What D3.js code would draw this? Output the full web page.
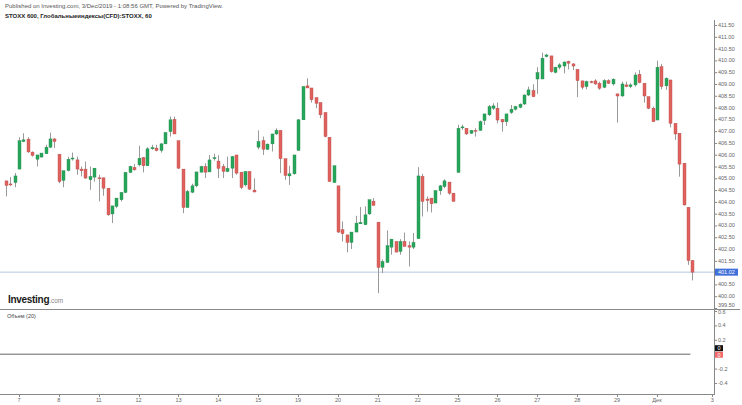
<!DOCTYPE html>
<html>
<head>
<meta charset="utf-8">
<script src="https://cdn.jsdelivr.net/npm/d3@7"></script>
<style>
  body { margin: 0; background: #fff; }
  text { font-family: "Liberation Sans", Arial, sans-serif; }
</style>
</head>
<body>
<div id="chart"></div>
<script>
// hourly STOXX 600 candles, 6 Nov - 2 Dec 2019
var OPEN = [404.89,404.76,404.82,405.39,406.56,406.66,406.11,405.81,405.90,406.04,406.32,406.67,
  406.02,404.91,405.33,405.84,405.78,405.39,405.39,404.94,405.05,
  405.02,405.02,404.58,403.49,403.81,404.09,404.40,405.25,405.46,
  405.57,405.88,405.53,406.25,406.28,406.18,406.46,406.98,407.50,
  406.59,405.39,403.76,404.41,404.68,405.26,405.50,405.27,405.83,
  405.73,405.50,405.29,405.43,405.99,405.26,404.72,405.29,404.50,
  406.32,406.60,406.23,406.46,406.88,407.03,405.83,405.10,405.19,
  406.18,407.48,408.92,408.83,408.42,408.21,407.79,406.74,404.82,
  404.68,402.82,402.60,402.28,402.72,403.07,403.03,403.49,404.03,
  403.14,401.23,401.43,402.08,402.32,401.90,402.32,402.14,402.08,
  402.44,405.08,404.12,404.16,403.95,404.47,404.65,404.84,404.37,
  405.25,407.15,407.12,406.91,407.03,407.03,407.45,407.69,407.97,
  407.97,407.50,407.40,407.79,407.93,408.01,408.15,408.53,408.72,
  409.21,409.21,410.16,410.19,409.49,409.71,409.76,409.96,409.85,
  409.62,409.13,408.89,409.10,409.13,409.03,408.86,409.14,409.00,
  408.58,408.49,408.96,408.89,408.96,409.41,409.03,408.46,407.97,
  407.47,409.73,408.92,409.17,407.33,406.91,405.64,403.77,401.51];
var HIGH = [404.89,405.05,405.22,406.74,406.91,406.74,406.14,405.99,406.07,406.42,406.94,406.70,
  406.02,405.32,405.92,406.09,405.92,405.50,405.71,405.50,405.43,
  405.15,405.02,404.58,403.83,404.16,404.40,405.25,405.53,405.61,
  406.38,405.90,406.32,406.42,406.42,406.49,406.94,407.62,407.62,
  406.59,405.39,404.51,404.77,405.27,405.53,405.64,405.99,406.04,
  405.98,405.61,405.92,405.95,405.99,405.26,405.29,405.29,405.00,
  407.03,406.77,406.47,406.88,407.12,407.03,405.83,405.53,405.99,
  407.51,408.89,409.24,408.83,408.42,408.21,407.79,406.74,405.53,
  404.68,403.17,402.60,402.72,403.41,403.78,403.81,404.09,404.16,
  403.14,401.55,402.79,402.42,402.32,402.42,402.70,402.32,402.68,
  405.47,405.19,404.23,404.16,404.48,404.72,404.96,404.84,404.37,
  407.27,407.27,407.12,407.05,407.12,407.45,407.73,408.11,408.18,
  408.21,407.50,407.73,408.11,408.07,408.18,408.56,408.89,408.99,
  409.71,410.33,410.27,410.19,409.73,409.88,409.95,409.99,409.88,
  409.62,409.14,409.14,409.14,409.20,409.10,409.20,409.20,409.24,
  408.58,409.10,409.10,409.03,409.49,409.59,409.03,408.46,408.04,
  409.99,409.85,409.28,409.17,407.33,406.91,405.64,403.77,401.54];
var LOW = [404.23,404.68,404.62,405.39,406.53,406.07,405.92,405.50,405.88,406.04,406.28,406.28,
  404.79,404.62,405.29,405.75,405.15,405.08,404.98,404.51,404.86,
  404.02,404.26,403.41,403.10,403.73,404.02,404.37,405.22,405.32,
  405.50,405.25,405.53,406.21,406.14,406.09,406.45,406.77,406.88,
  405.39,403.52,403.76,404.37,404.62,405.25,405.01,405.27,405.75,
  405.01,405.01,405.26,405.01,405.15,404.54,404.65,404.51,404.40,
  406.23,405.99,406.20,406.14,406.84,405.22,404.94,404.72,405.15,
  406.18,407.48,408.83,408.21,407.97,407.55,406.74,404.86,404.80,
  402.68,402.32,401.86,402.00,402.72,403.07,403.03,403.45,403.85,
  400.13,400.98,401.43,401.76,401.87,401.76,402.11,401.26,402.00,
  402.44,403.38,403.59,403.55,403.95,404.30,404.58,404.30,404.02,
  405.25,407.05,406.84,406.88,406.77,407.03,407.26,407.64,407.90,
  407.33,406.98,407.22,407.73,407.87,407.97,408.11,408.49,408.44,
  408.58,409.21,410.13,409.48,409.45,409.62,409.45,409.62,409.59,
  408.44,408.77,408.77,409.03,408.96,408.75,408.82,409.00,408.93,
  407.36,408.46,408.86,408.82,408.89,409.03,408.21,407.93,407.40,
  407.47,408.77,408.75,407.16,406.63,405.07,403.84,401.33,400.67];
var CLOSE = [404.70,404.75,405.10,406.59,406.63,406.12,405.97,405.99,406.07,406.32,406.67,406.56,
  404.86,405.32,405.81,405.86,405.39,405.32,405.01,405.08,405.43,
  405.00,404.58,403.45,403.83,404.16,404.40,405.25,405.50,405.36,
  405.85,405.53,406.25,406.30,406.18,406.46,406.94,407.48,406.88,
  405.43,403.76,404.44,404.68,405.27,405.50,405.26,405.78,405.87,
  405.42,405.29,405.42,405.92,405.22,404.61,405.29,404.54,404.42,
  406.56,406.23,406.45,406.88,407.03,405.83,405.12,405.19,405.99,
  407.48,408.89,408.83,408.33,408.18,407.69,406.77,404.86,405.53,
  402.72,402.65,402.28,402.72,403.10,403.13,403.45,404.09,403.85,
  401.22,401.47,402.14,402.42,401.87,402.32,402.11,402.08,402.28,
  405.10,404.02,404.06,403.92,404.48,404.68,404.89,404.37,404.02,
  407.12,407.18,406.88,407.03,407.01,407.40,407.73,408.04,408.07,
  407.47,407.39,407.73,407.93,408.04,408.14,408.53,408.75,408.46,
  409.48,410.09,410.23,409.52,409.71,409.81,409.93,409.88,409.76,
  409.14,408.86,409.10,409.08,409.00,408.82,409.14,409.03,409.20,
  408.49,409.00,408.89,408.96,409.38,409.06,408.49,407.97,407.40,
  409.71,408.89,409.24,407.33,406.88,405.60,403.87,401.51,401.02];

// day labels: candle index where each day starts
var DAY_INDEX = [3, 12, 21, 30, 39, 48, 57, 66, 75, 84, 93, 102, 111, 120, 129, 138, 147, 159.5];
var DAY_LABELS = ["7", "8", "11", "12", "13", "14", "15", "19", "20", "21", "22", "25", "26", "27", "28", "29", "Дек", "3"];

var PRICE_TICKS = d3.range(399.5, 411.51, 0.5);
var VOL_TICKS = [0.6, 0.4, 0.2, -0.2, -0.4];
var LAST_PRICE = 401.02;

var W = 742, H = 405;
var UP = "#26a65b", DOWN = "#e0625e";

var svg = d3.select("#chart").append("svg")
    .attr("width", W)
    .attr("height", H);

var axisX = 714;

var x = d3.scaleLinear().domain([0, 155]).range([5.7, 692.4]);
var y = d3.scaleLinear().domain([399.5, 411.5]).range([308, 25]);
var yv = d3.scaleLinear().domain([-0.4, 0.6]).range([383, 311]);

// header
svg.append("text")
    .attr("x", 5).attr("y", 8)
    .attr("font-size", 6).attr("fill", "#555")
    .text("Published on Investing.com, 3/Dec/2019 - 1:08:56 GMT, Powered by TradingView.");
svg.append("text")
    .attr("x", 5).attr("y", 18)
    .attr("font-size", 6).attr("font-weight", "bold").attr("fill", "#222")
    .text("STOXX 600, Глобальныеиндексы(CFD):STOXX, 60");

// last price line
svg.append("line")
    .attr("x1", 0).attr("x2", axisX)
    .attr("y1", y(LAST_PRICE)).attr("y2", y(LAST_PRICE))
    .attr("stroke", "#b7c7e0").attr("stroke-width", 1);

// candles
var idx = d3.range(OPEN.length);
var bw = 3;

svg.append("g").selectAll("line")
    .data(idx).enter().append("line")
    .attr("x1", function (i) { return Math.round(x(i)) + 0.5; })
    .attr("x2", function (i) { return Math.round(x(i)) + 0.5; })
    .attr("y1", function (i) { return y(HIGH[i]); })
    .attr("y2", function (i) { return y(LOW[i]); })
    .attr("stroke", "#9a9a9a").attr("stroke-width", 1);

svg.append("g").selectAll("rect")
    .data(idx).enter().append("rect")
    .attr("x", function (i) { return Math.round(x(i)) + 0.5 - bw / 2; })
    .attr("y", function (i) { return y(Math.max(OPEN[i], CLOSE[i])); })
    .attr("width", bw)
    .attr("height", function (i) {
        return Math.max(1, Math.abs(y(OPEN[i]) - y(CLOSE[i])));
    })
    .attr("fill", function (i) { return CLOSE[i] >= OPEN[i] ? UP : DOWN; })
    .attr("stroke", function (i) { return CLOSE[i] >= OPEN[i] ? "#1f8a4b" : "#b94a47"; })
    .attr("stroke-width", 0.4);

// right price axis
svg.append("line")
    .attr("x1", axisX + 0.5).attr("x2", axisX + 0.5)
    .attr("y1", 20).attr("y2", 395)
    .attr("stroke", "#888");

var pt = svg.append("g").selectAll("g")
    .data(PRICE_TICKS).enter().append("g");
pt.append("line")
    .attr("x1", axisX).attr("x2", axisX + 3)
    .attr("y1", function (d) { return y(d) + 0.5; })
    .attr("y2", function (d) { return y(d) + 0.5; })
    .attr("stroke", "#888");
pt.append("text")
    .attr("x", axisX + 4)
    // bottom label sits just above the pane separator
    .attr("y", function (d) { return d === 399.5 ? y(d) - 1.5 : y(d) + 2; })
    .attr("font-size", 5.5).attr("fill", "#666")
    .text(function (d) { return d3.format(".2f")(d); });

// last price tag
svg.append("rect")
    .attr("x", axisX + 1).attr("y", y(LAST_PRICE) - 3.5)
    .attr("width", 23).attr("height", 7)
    .attr("fill", "#3f6fd8");
svg.append("text")
    .attr("x", axisX + 4).attr("y", y(LAST_PRICE) + 2)
    .attr("font-size", 5.5).attr("fill", "#fff")
    .text(d3.format(".2f")(LAST_PRICE));

// logo
svg.append("text")
    .attr("x", 8).attr("y", 303)
    .attr("font-size", 10).attr("font-weight", "bold").attr("fill", "#1a1a1a")
    .attr("letter-spacing", -0.3)
    .text("Investing")
    .append("tspan")
    .attr("font-size", 6.5).attr("font-weight", "normal").attr("fill", "#888")
    .attr("letter-spacing", 0)
    .text(".com");

// pane separator
svg.append("line")
    .attr("x1", 0).attr("x2", 740)
    .attr("y1", 309.5).attr("y2", 309.5)
    .attr("stroke", "#8a8a8a");

// volume pane
svg.append("text")
    .attr("x", 7).attr("y", 318)
    .attr("font-size", 5.5).attr("fill", "#444")
    .text("Объем (20)");

svg.append("line")
    .attr("x1", 0).attr("x2", x(155) - 2)
    .attr("y1", yv(0)).attr("y2", yv(0))
    .attr("stroke", "#666");

var vt = svg.append("g").selectAll("g")
    .data(VOL_TICKS).enter().append("g");
vt.append("line")
    .attr("x1", axisX).attr("x2", axisX + 3)
    .attr("y1", function (d) { return yv(d) + 0.5; })
    .attr("y2", function (d) { return yv(d) + 0.5; })
    .attr("stroke", "#888");
vt.append("text")
    .attr("x", axisX + 4)
    .attr("y", function (d) { return d === 0.6 ? yv(d) + 3 : yv(d) + 2; })
    .attr("font-size", 5.5).attr("fill", "#666")
    .text(function (d) { return d; });

// volume value tags
svg.append("rect")
    .attr("x", axisX + 1).attr("y", yv(0) - 9)
    .attr("width", 8).attr("height", 6)
    .attr("fill", "#111");
svg.append("text")
    .attr("x", axisX + 3.5).attr("y", yv(0) - 4)
    .attr("font-size", 5.5).attr("fill", "#fff")
    .text("0");
svg.append("rect")
    .attr("x", axisX + 1).attr("y", yv(0) - 2.5)
    .attr("width", 8).attr("height", 6)
    .attr("fill", "#f06a6a");
svg.append("text")
    .attr("x", axisX + 3.5).attr("y", yv(0) + 2.5)
    .attr("font-size", 5.5).attr("fill", "#fff")
    .text("0");

// time axis
svg.append("line")
    .attr("x1", 0).attr("x2", axisX)
    .attr("y1", 394.5).attr("y2", 394.5)
    .attr("stroke", "#888");

var xt = svg.append("g").selectAll("g")
    .data(DAY_INDEX).enter().append("g");
xt.append("line")
    .attr("x1", function (d) { return Math.round(x(d)) + 0.5; })
    .attr("x2", function (d) { return Math.round(x(d)) + 0.5; })
    .attr("y1", 394).attr("y2", 397)
    .attr("stroke", "#888");
xt.append("text")
    .attr("x", function (d) { return x(d); })
    .attr("y", 402)
    .attr("text-anchor", "middle")
    .attr("font-size", 5.5).attr("fill", "#666")
    .text(function (d, i) { return DAY_LABELS[i]; });
</script>
</body>
</html>
